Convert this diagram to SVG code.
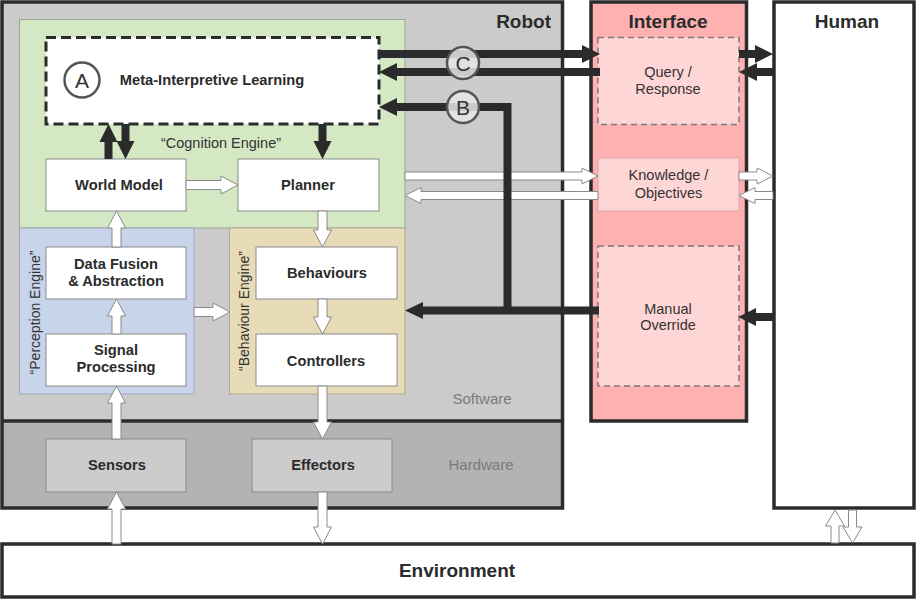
<svg xmlns="http://www.w3.org/2000/svg" width="916" height="601" viewBox="0 0 916 601">
<style>
text{font-family:"Liberation Sans",Arial,sans-serif;fill:#2b2b2b}
.t{font-size:19px;font-weight:bold;text-anchor:middle}
.b{font-size:14.7px;font-weight:bold;text-anchor:middle}
.n{font-size:14.5px;text-anchor:middle;fill:#333}
.g{font-size:15px;text-anchor:middle;fill:#7a7a7a}
.big{stroke:#2b2b2b;stroke-width:3.5}
.box{fill:#fff;stroke:#8a8a8a;stroke-width:1}
.hw{fill:#cccccc;stroke:#8a8a8a;stroke-width:1}
.pk{fill:#ffd6d6}
.dash{stroke:#7a7a7a;stroke-width:1.5;stroke-dasharray:6 4}
.wa{fill:#fff;stroke:#8a8a8a;stroke-width:1;stroke-linejoin:miter}
.bl{stroke:#2b2b2b;stroke-width:8;fill:none}
.bh{fill:#2b2b2b}
.circ{fill:#e6e6e6;fill-opacity:0.85;stroke:#555;stroke-width:2.5}
.lt{font-size:21px;text-anchor:middle;fill:#333}
</style>

<g id="robot">
<rect x="2" y="2" width="560.5" height="419" fill="#cbcbcb"/>
<rect x="2" y="421" width="560.5" height="87" fill="#b3b3b3"/>
<rect x="2" y="2" width="560.5" height="506" fill="none" class="big"/>
<line x1="2" y1="421" x2="562.5" y2="421" class="big"/>
<text class="t" x="551" y="28" style="text-anchor:end">Robot</text>
<text class="g" x="482" y="404">Software</text>
<text class="g" x="481" y="470">Hardware</text>
</g>

<g id="cognition-engine">
<rect x="19.5" y="19.5" width="385.5" height="208.5" fill="#d5e8c4" stroke="#9aa58f" stroke-width="1"/>
<text class="n" x="221" y="148">“Cognition Engine”</text>
</g>

<g id="perception-engine">
<rect x="19.5" y="228" width="174.5" height="166" fill="#c8d4ea" stroke="#9ea8bb" stroke-width="1"/>
<text class="n" style="font-size:14px" transform="translate(39.5,312.5) rotate(-90)">“Perception Engine”</text>
</g>

<g id="behaviour-engine">
<rect x="229.5" y="228" width="175.5" height="166" fill="#e8dcb8" stroke="#b3aa8f" stroke-width="1"/>
<text class="n" style="font-size:14px" transform="translate(249,311) rotate(-90)">“Behaviour Engine”</text>
</g>

<g id="interface">
<rect x="591" y="2" width="155.5" height="419" fill="#ffb0b0" class="big"/>
<text class="t" x="668" y="28">Interface</text>
</g>

<g id="human">
<rect x="774" y="2" width="140" height="506" fill="#fff" class="big"/>
<text class="t" x="847" y="28">Human</text>
</g>

<g id="environment">
<rect x="2" y="544" width="912" height="53" fill="#fff" class="big"/>
<text class="t" x="457" y="577">Environment</text>
</g>

<g id="mil">
<rect x="46" y="37.5" width="333" height="86.5" fill="#fff" stroke="#2b2b2b" stroke-width="3" stroke-dasharray="10 5"/>
<circle cx="82" cy="80" r="17.5" fill="#fff" stroke="#555" stroke-width="2.5"/>
<text class="lt" x="82" y="87.5">A</text>
<text class="b" x="212" y="85">Meta-Interpretive Learning</text>
</g>

<g id="world-model">
<rect x="46" y="159" width="140" height="52" class="box"/>
<text class="b" x="119" y="190">World Model</text>
</g>

<g id="planner">
<rect x="238" y="159" width="141" height="52" class="box"/>
<text class="b" x="308" y="190">Planner</text>
</g>

<g id="data-fusion">
<rect x="46" y="247" width="140" height="52" class="box"/>
<text class="b" x="116" y="269">Data Fusion</text>
<text class="b" x="116" y="286">&amp; Abstraction</text>
</g>

<g id="signal-processing">
<rect x="46" y="334" width="140" height="52" class="box"/>
<text class="b" x="116" y="355">Signal</text>
<text class="b" x="116" y="372">Processing</text>
</g>

<g id="behaviours">
<rect x="256" y="247" width="141" height="52" class="box"/>
<text class="b" x="327" y="278">Behaviours</text>
</g>

<g id="controllers">
<rect x="256" y="334" width="141" height="52" class="box"/>
<text class="b" x="326" y="365.5">Controllers</text>
</g>

<g id="sensors">
<rect x="46" y="439" width="140" height="53" class="hw"/>
<text class="b" x="117" y="470">Sensors</text>
</g>

<g id="effectors">
<rect x="252" y="439" width="140" height="53" class="hw"/>
<text class="b" x="323" y="470">Effectors</text>
</g>

<g id="query-response">
<rect x="598" y="37.5" width="141" height="87" class="pk dash"/>
<text class="n" x="668" y="77">Query /</text>
<text class="n" x="668" y="94">Response</text>
</g>

<g id="knowledge-objectives">
<rect x="598" y="158" width="141" height="53" class="pk" stroke="#d9a8a8" stroke-width="1"/>
<text class="n" x="668.5" y="180">Knowledge /</text>
<text class="n" x="668.5" y="198">Objectives</text>
</g>

<g id="manual-override">
<rect x="598" y="246" width="141" height="140" class="pk dash"/>
<text class="n" x="668" y="314">Manual</text>
<text class="n" x="668" y="330">Override</text>
</g>

<g id="connectors">
<!-- white block arrows -->
<path class="wa" d="M112,247 V228 H107.5 L116.5,211 L125.5,228 H121 V247 Z"/>
<path class="wa" d="M112,334 V316 H107.5 L116.5,299 L125.5,316 H121 V334 Z"/>
<path class="wa" d="M112,439 V403 H107.5 L116.5,386 L125.5,403 H121 V439 Z"/>
<path class="wa" d="M112,544 V509 H107.5 L116.5,492 L125.5,509 H121 V544 Z"/>
<path class="wa" d="M318,211 V230 H313.5 L322.5,247 L331.5,230 H327 V211 Z"/>
<path class="wa" d="M318,299 V317 H313.5 L322.5,334 L331.5,317 H327 V299 Z"/>
<path class="wa" d="M318,386 V422 H313.5 L322.5,439 L331.5,422 H327 V386 Z"/>
<path class="wa" d="M318,492 V527 H313.5 L322.5,544 L331.5,527 H327 V492 Z"/>
<path class="wa" d="M186,180.5 H221 V176 L238,185 L221,194 V189.5 H186 Z"/>
<path class="wa" d="M194,307.5 H213 V303 L230,312 L213,321 V316.5 H194 Z"/>
<path class="wa" d="M405,172 H582 V168 L598,176 L582,184 V180 H405 Z"/>
<path class="wa" d="M739,172 H757 V168 L773,176 L757,184 V180 H739 Z"/>
<path class="wa" d="M598,191.5 H421 V187.5 L405,195.5 L421,203.5 V199.5 H598 Z"/>
<path class="wa" d="M773,191.5 H755 V187.5 L739,195.5 L755,203.5 V199.5 H773 Z"/>
<path class="wa" d="M831,543 V526 H825.5 L835,510 L844.5,526 H839 V543 Z"/>
<path class="wa" d="M848.5,510 V527 H843 L852.5,543 L862,527 H856.5 V510 Z"/>
<!-- black arrows -->
<line class="bl" x1="379" y1="54" x2="583" y2="54"/>
<path class="bh" d="M582,45 L600,54 L582,63 Z"/>
<line class="bl" x1="600" y1="72" x2="396" y2="72"/>
<path class="bh" d="M397,63 L379,72 L397,81 Z"/>
<line class="bl" x1="739" y1="54" x2="756" y2="54"/>
<path class="bh" d="M755,45 L773,54 L755,63 Z"/>
<line class="bl" x1="773" y1="72" x2="756" y2="72"/>
<path class="bh" d="M757,63 L739,72 L757,81 Z"/>
<path class="bl" d="M507.5,314 V107 H396" stroke-linejoin="miter"/>
<path class="bh" d="M397,98 L379,107 L397,116 Z"/>
<line class="bl" x1="599" y1="310.5" x2="422" y2="310.5"/>
<path class="bh" d="M423,302 L405,310.5 L423,319 Z"/>
<line class="bl" x1="773" y1="317" x2="755" y2="317"/>
<path class="bh" d="M756,308 L738.5,317 L756,326 Z"/>
<line class="bl" x1="108.5" y1="159" x2="108.5" y2="141"/>
<path class="bh" d="M99.5,142 L108.5,124 L117.5,142 Z"/>
<line class="bl" x1="125.5" y1="124" x2="125.5" y2="142"/>
<path class="bh" d="M116.5,141 L125.5,159 L134.5,141 Z"/>
<line class="bl" x1="322.5" y1="124" x2="322.5" y2="142"/>
<path class="bh" d="M313.5,141 L322.5,159 L331.5,141 Z"/>
</g>

<g id="label-c">
<circle cx="463" cy="63" r="16" class="circ"/>
<text class="lt" x="463" y="70.5">C</text>
</g>
<g id="label-b">
<circle cx="463" cy="107" r="16" class="circ"/>
<text class="lt" x="463" y="114.5">B</text>
</g>
</svg>
